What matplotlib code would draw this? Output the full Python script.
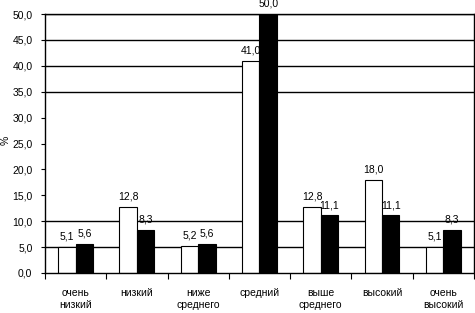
import matplotlib
matplotlib.use("Agg")
import matplotlib.pyplot as plt
import numpy as np

plt.rcParams["font.family"] = ["Liberation Sans", "DejaVu Sans"]

categories = ["очень\nнизкий", "низкий", "ниже\nсреднего", "средний",
              "выше\nсреднего", "высокий", "очень\nвысокий"]
white_values = [5.1, 12.8, 5.2, 41.0, 12.8, 18.0, 5.1]
black_values = [5.6, 8.3, 5.6, 50.0, 11.1, 11.1, 8.3]
y_ticks = [0, 5, 10, 15, 20, 25, 30, 35, 40, 45, 50]
grid_values = [5, 10, 35, 40, 45, 50]


def fmt(v):
    return f"{v:.1f}".replace(".", ",")


fig = plt.figure(figsize=(4.75, 3.13), dpi=100)
ax = fig.add_axes([0.0947, 0.128, 0.903, 0.827])

x = np.arange(len(categories))
width = 0.285

for g in grid_values:
    ax.axhline(g, color="black", lw=1.0, zorder=1)

ax.bar(x - width / 2, white_values, width, color="white", edgecolor="black",
       linewidth=0.8, zorder=2)
ax.bar(x + width / 2, black_values, width, color="black", edgecolor="black",
       linewidth=0.8, zorder=2)

for xi, v in zip(x, white_values):
    ax.text(xi - width / 2, v + 1.0, fmt(v), ha="center", va="bottom",
            fontsize=7.5, zorder=1)
for xi, v in zip(x, black_values):
    ax.text(xi + width / 2, v + 1.0, fmt(v), ha="center", va="bottom",
            fontsize=7.5, zorder=3, clip_on=False)

ax.set_xlim(-0.5, len(categories) - 0.5)
ax.set_ylim(0, 50)
ax.set_yticks(y_ticks)
ax.set_yticklabels([fmt(v) for v in y_ticks], fontsize=7.5)
ax.tick_params(axis="y", length=3, width=0.8, pad=6)

ax.set_xticks(np.arange(len(categories) + 1) - 0.5)
ax.set_xticklabels([])
ax.tick_params(axis="x", length=4, width=0.8)
for xi, lab in zip(x, categories):
    ax.text(xi, -0.058, lab, ha="center", va="top", fontsize=7.5,
            linespacing=1.3, transform=ax.get_xaxis_transform(), clip_on=False)

for s in ax.spines.values():
    s.set_linewidth(1.0)

fig.text(0.012, 0.55, "%", rotation=90, ha="center", va="center", fontsize=7.5)

fig.savefig("out.png", dpi=100)
